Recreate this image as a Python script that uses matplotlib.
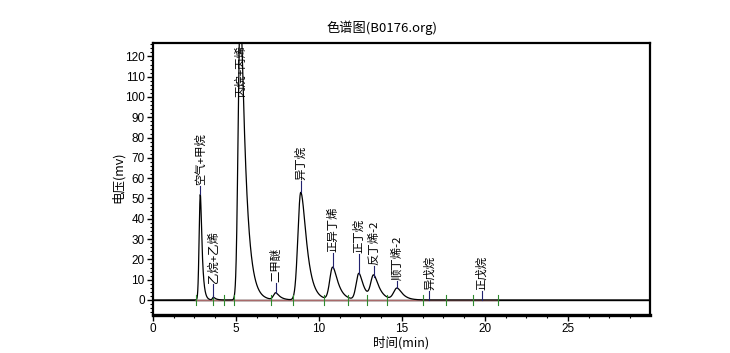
import numpy as np
import matplotlib
matplotlib.use("Agg")
import matplotlib.pyplot as plt
from matplotlib.ticker import MultipleLocator

plt.rcParams['font.family'] = ['Noto Sans CJK SC', 'DejaVu Sans']

# ---- data ----
peak_names = ["空气+甲烷", "乙烷+乙烯", "丙烷+丙烯", "二甲醚", "异丁烷", "正异丁烯",
              "正丁烷", "反丁烯-2", "顺丁烯-2", "异戊烷", "正戊烷"]
retention = [2.85, 3.63, 5.25, 7.39, 8.90, 10.82, 12.40, 13.29, 14.70, 16.64, 19.79]
heights = [52.0, 1.3, 145.0, 3.4, 53.0, 16.0, 13.0, 11.5, 5.7, 0.0, 0.0]
sigma_left = [0.07, 0.05, 0.12, 0.13, 0.17, 0.17, 0.16, 0.17, 0.20, 0.1, 0.1]
shape_a = [0.05, 0.05, 0.12, 0.10, 0.25, 0.20, 0.15, 0.20, 0.20, 0.1, 0.1]
tail_tau = [0.10, 0.15, 0.30, 0.25, 0.30, 0.30, 0.28, 0.30, 0.30, 0.2, 0.2]
label_y = [56.6, 8.2, 100.0, 8.9, 59.0, 23.8, 23.0, 17.2, 9.8, 4.9, 4.9]

integration_marks = [2.59, 3.60, 4.30, 4.90, 7.10, 8.45, 10.30, 11.75, 12.87,
                     14.07, 16.24, 17.65, 19.30, 20.80]
baseline_span = [2.55, 20.80]

x_ticks = [0, 5, 10, 15, 20, 25]
y_ticks = list(range(0, 121, 10))


def peak(t, tc, h, sl, a, tau):
    x = t - tc
    left = h * np.exp(-0.5 * (x / sl) ** 2)
    right = h * np.exp(-(np.sqrt(1 + (x / a) ** 2) - 1) * a / tau)
    return np.where(x < 0, left, right)


t = np.linspace(0, 30, 6000)
signal = np.zeros_like(t)
for tc, h, sl, a, tau in zip(retention, heights, sigma_left, shape_a, tail_tau):
    signal += peak(t, tc, h, sl, a, tau)

fig = plt.figure(figsize=(7.30, 3.53), dpi=100)
ax = fig.add_axes([153 / 730, 1 - 315 / 353, (650 - 153) / 730, (315 - 43) / 353])

ax.set_xlim(0, 29.94)
ax.set_ylim(-7.4, 126.6)

ax.axhline(0, color='black', lw=1.0, zorder=1)
ax.plot(baseline_span, [0, 0], color='#a86a6a', lw=1.0, zorder=2)
ax.plot(t, signal, color='black', lw=0.9, zorder=3)

for m in integration_marks:
    ax.plot([m, m], [-2.6, 2.6], color='#2e8b2e', lw=0.8, zorder=4)

for name, tc, h, ly in zip(peak_names, retention, heights, label_y):
    if ly > h:
        ax.plot([tc, tc], [h, ly - 0.5], color='#22226e', lw=0.8, zorder=4)
    ax.text(tc, ly, name, rotation=90, rotation_mode='anchor', ha='left',
            va='center', fontsize=8.2, color='black', zorder=5)

for s in ax.spines.values():
    s.set_linewidth(1.6)
ax.spines['bottom'].set_linewidth(2.4)

ax.set_xticks(x_ticks)
ax.set_yticks(y_ticks)
ax.xaxis.set_minor_locator(MultipleLocator(1.25))
ax.yaxis.set_minor_locator(MultipleLocator(2))
ax.tick_params(axis='both', which='major', direction='out', length=4, width=1,
               labelsize=8.5, pad=2)
ax.tick_params(axis='both', which='minor', direction='out', length=2.5, width=0.8)
for lab in ax.get_xticklabels() + ax.get_yticklabels():
    lab.set_family(['Liberation Sans', 'DejaVu Sans'])

fig.text(382 / 730, 1 - 28 / 353, "色谱图(B0176.org)", ha='center', va='center', fontsize=9.5)
fig.text(401 / 730, 1 - 343 / 353, "时间(min)", ha='center', va='center', fontsize=9)
fig.text(118 / 730, 1 - 177 / 353, "电压(mv)", ha='center', va='center', fontsize=9,
         rotation=90)

fig.savefig("out.png", dpi=100)
